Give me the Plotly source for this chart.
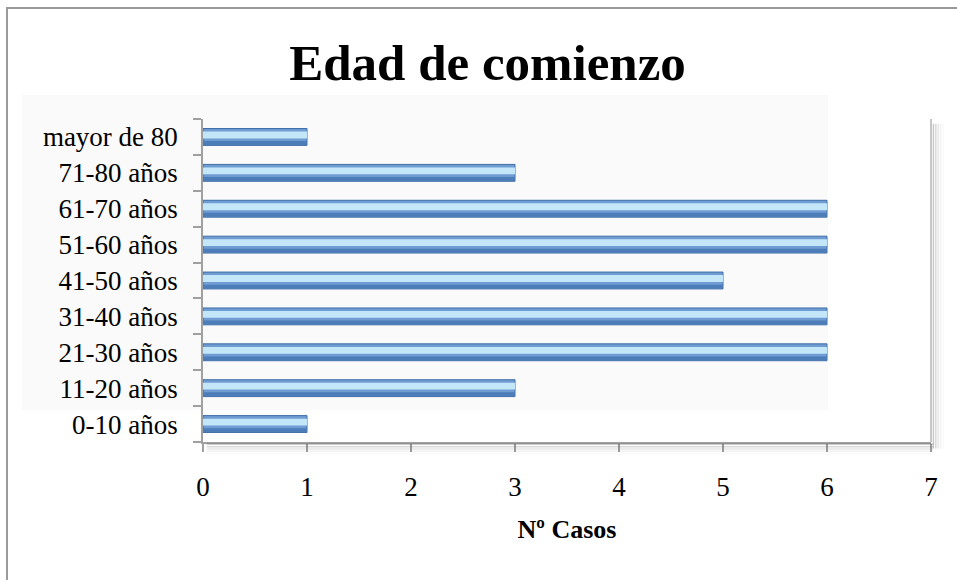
import plotly.graph_objects as go

categories = ["0-10 años", "11-20 años", "21-30 años", "31-40 años", "41-50 años",
              "51-60 años", "61-70 años", "71-80 años", "mayor de 80"]
casos = [1, 3, 6, 6, 5, 6, 6, 3, 1]
x_ticks = [0, 1, 2, 3, 4, 5, 6, 7]
title_text = "Edad de comienzo"
x_title = "Nº Casos"

SERIF = "Liberation Serif, Times New Roman, serif"

W, H = 957, 580
ML, MR, MT, MB = 203, 26, 119, 138
PW, PH = W - ML - MR, H - MT - MB


def px_x(p):
    return (p - ML) / PW


def px_y(p):
    return (H - MB - p) / PH


fig = go.Figure()
fig.add_trace(go.Bar(y=categories, x=casos, orientation="h", width=0.47,
                     marker=dict(color="#6f9dd3", line=dict(color="#3f6ea8", width=1)),
                     hoverinfo="x+y", showlegend=False))
fig.add_trace(go.Bar(y=categories, x=casos, orientation="h", width=0.11, offset=-0.225,
                     marker=dict(color="#4d7db8", line=dict(width=0)),
                     hoverinfo="skip", showlegend=False))
fig.add_trace(go.Bar(y=categories, x=casos, orientation="h", width=0.19, offset=-0.04,
                     marker=dict(color="#c3e7f8", line=dict(width=0)),
                     hoverinfo="skip", showlegend=False))

shapes = [
    # faint watermark block
    dict(type="rect", xref="paper", yref="paper", layer="below",
         x0=px_x(22), x1=px_x(828), y0=px_y(410), y1=px_y(95),
         fillcolor="rgba(0,0,0,0.018)", line=dict(width=0)),
    # outer frame
    dict(type="line", xref="paper", yref="paper", x0=px_x(6), x1=px_x(957), y0=px_y(8), y1=px_y(8),
         line=dict(color="#9a9a9a", width=2)),
    dict(type="line", xref="paper", yref="paper", x0=px_x(7), x1=px_x(7), y0=px_y(585), y1=px_y(7),
         line=dict(color="#9a9a9a", width=2)),
    # plot area right edge
    dict(type="line", xref="x domain", yref="y domain", x0=1, x1=1, y0=0, y1=1,
         line=dict(color="#b5b5b5", width=1.5)),
]
for i, a in enumerate([0.28, 0.2, 0.13, 0.07, 0.03]):
    off = 0.006 + i * 0.006
    shapes.append(dict(type="line", xref="x domain", yref="y domain",
                       x0=0.005, x1=1.0 + 0.003, y0=-off * 1.2, y1=-off * 1.2,
                       line=dict(color=f"rgba(60,60,60,{a})", width=1.5)))
    shapes.append(dict(type="line", xref="x domain", yref="y domain",
                       x0=1.0 + off * 0.55, x1=1.0 + off * 0.55, y0=-0.02, y1=0.985,
                       line=dict(color=f"rgba(60,60,60,{a})", width=1.5)))

fig.update_layout(
    width=W, height=H,
    margin=dict(l=ML, r=MR, t=MT, b=MB, autoexpand=False),
    paper_bgcolor="white", plot_bgcolor="white",
    barmode="overlay",
    bargap=0.53,
    title=dict(text=f"<b>{title_text}</b>", x=487.5 / W, xanchor="center", xref="container",
               y=1 - 62 / H, yanchor="middle", yref="container",
               font=dict(family=SERIF, size=51, color="black")),
    shapes=shapes,
    font=dict(family=SERIF, color="black"),
)

fig.update_xaxes(
    range=[0, 7], tickvals=x_ticks, ticktext=[str(v) for v in x_ticks],
    showgrid=False, zeroline=False, automargin=False,
    showline=True, linecolor="#a0a0a0", linewidth=1.5,
    ticks="outside", ticklen=8, tickcolor="#a0a0a0", tickwidth=1.5,
    tickfont=dict(family=SERIF, size=27, color="black"),
    ticklabelstandoff=12,
    title=dict(text=f"<b>{x_title}</b>", font=dict(family=SERIF, size=26, color="black"),
               standoff=19),
    fixedrange=True,
)
fig.update_yaxes(
    type="category", categoryorder="array", categoryarray=categories,
    showgrid=False, zeroline=False, automargin=False,
    showline=True, linecolor="#a0a0a0", linewidth=1.5,
    ticks="outside", ticklen=8, tickcolor="#a0a0a0", tickwidth=1.5,
    tickson="boundaries",
    tickfont=dict(family=SERIF, size=27, color="black"),
    ticklabelstandoff=18,
    fixedrange=True,
)

fig.write_html("out.html", config={"displayModeBar": False},
               post_script="document.body.style.margin='0';document.body.style.overflow='hidden';")
